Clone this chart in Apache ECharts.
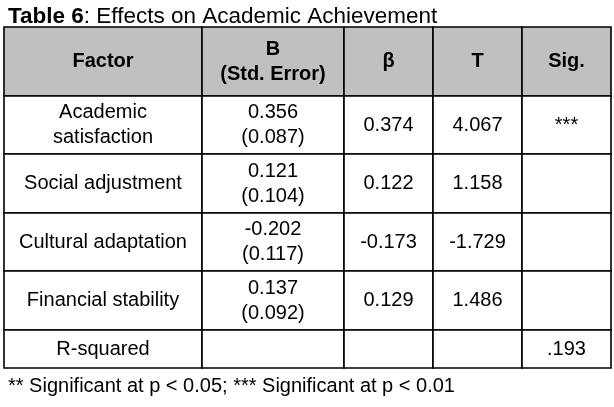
<!DOCTYPE html>
<html>
<head>
<meta charset="utf-8">
<script src="https://cdn.jsdelivr.net/npm/echarts@6/dist/echarts.min.js"></script>
<style>html,body{margin:0;padding:0;background:#fff;}#c{width:614px;height:407px;}</style>
</head>
<body>
<div id="c"></div>
<script>
// ---- data ----
const headers = ['Factor', 'B\n(Std. Error)', 'β', 'T', 'Sig.'];
const factors = ['Academic\nsatisfaction', 'Social adjustment', 'Cultural adaptation', 'Financial stability'];
const bValues = ['0.356', '0.121', '-0.202', '0.137'];
const stdErrors = ['(0.087)', '(0.104)', '(0.117)', '(0.092)'];
const betaValues = ['0.374', '0.122', '-0.173', '0.129'];
const tValues = ['4.067', '1.158', '-1.729', '1.486'];
const sigMarks = ['***', '', '', ''];
const rSquaredLabel = 'R-squared';
const rSquaredValue = '.193';
const titleBold = 'Table 6';
const titleRest = ': Effects on Academic Achievement';
const footnote = '** Significant at p < 0.05; *** Significant at p < 0.01';

// ---- layout (axis units) ----
const colEdges = [0, 198, 340, 429, 518, 607];
const rowEdges = [0, 69, 127, 186, 244, 303, 341];
const FONT = '"Liberation Sans", Arial, sans-serif';

// build cells: [col, row, text, isHeader]
const cells = [];
headers.forEach((h, c) => cells.push([c, 0, h, 1]));
factors.forEach((f, i) => {
  const r = i + 1;
  cells.push([0, r, f, 0]);
  cells.push([1, r, bValues[i] + '\n' + stdErrors[i], 0]);
  cells.push([2, r, betaValues[i], 0]);
  cells.push([3, r, tValues[i], 0]);
  cells.push([4, r, sigMarks[i], 0]);
});
const lastRow = factors.length + 1;
cells.push([0, lastRow, rSquaredLabel, 0]);
cells.push([1, lastRow, '', 0]);
cells.push([2, lastRow, '', 0]);
cells.push([3, lastRow, '', 0]);
cells.push([4, lastRow, rSquaredValue, 0]);

const chart = echarts.init(document.getElementById('c'), null, {renderer: 'canvas'});
chart.setOption({
  backgroundColor: '#ffffff',
  animation: false,
  title: [
    {
      text: '{b|' + titleBold + '}{n|' + titleRest + '}',
      left: 3, top: 0,
      textStyle: {
        rich: {
          b: {fontFamily: FONT, fontWeight: 'bold', fontSize: 22.5, color: '#000'},
          n: {fontFamily: FONT, fontWeight: 'normal', fontSize: 22.5, color: '#000'}
        }
      }
    },
    {
      text: footnote,
      left: 3, top: 371,
      textStyle: {fontFamily: FONT, fontWeight: 'normal', fontSize: 20, color: '#000'}
    }
  ],
  grid: {left: 4, top: 27, width: 607, height: 341, show: false},
  xAxis: {type: 'value', min: 0, max: colEdges[colEdges.length - 1], show: false},
  yAxis: {type: 'value', min: 0, max: rowEdges[rowEdges.length - 1], inverse: true, show: false},
  series: [{
    type: 'custom',
    coordinateSystem: 'cartesian2d',
    data: cells,
    renderItem: function (params, api) {
      const c = api.value(0), r = api.value(1);
      const item = cells[params.dataIndex];
      const p0 = api.coord([colEdges[c], rowEdges[r]]);
      const p1 = api.coord([colEdges[c + 1], rowEdges[r + 1]]);
      const isHead = item[3] === 1;
      return {
        type: 'group',
        children: [
          {
            type: 'rect',
            shape: {x: p0[0], y: p0[1], width: p1[0] - p0[0], height: p1[1] - p0[1]},
            style: {fill: isHead ? '#c0c0c0' : '#ffffff', stroke: '#000', lineWidth: 1.6}
          },
          {
            type: 'text',
            style: {
              text: item[2],
              x: (p0[0] + p1[0]) / 2,
              y: (p0[1] + p1[1]) / 2,
              align: 'center',
              verticalAlign: 'middle',
              fontFamily: FONT,
              fontSize: 20,
              fontWeight: isHead ? 'bold' : 'normal',
              lineHeight: 25,
              fill: '#000'
            }
          }
        ]
      };
    }
  }]
});
</script>
</body>
</html>
